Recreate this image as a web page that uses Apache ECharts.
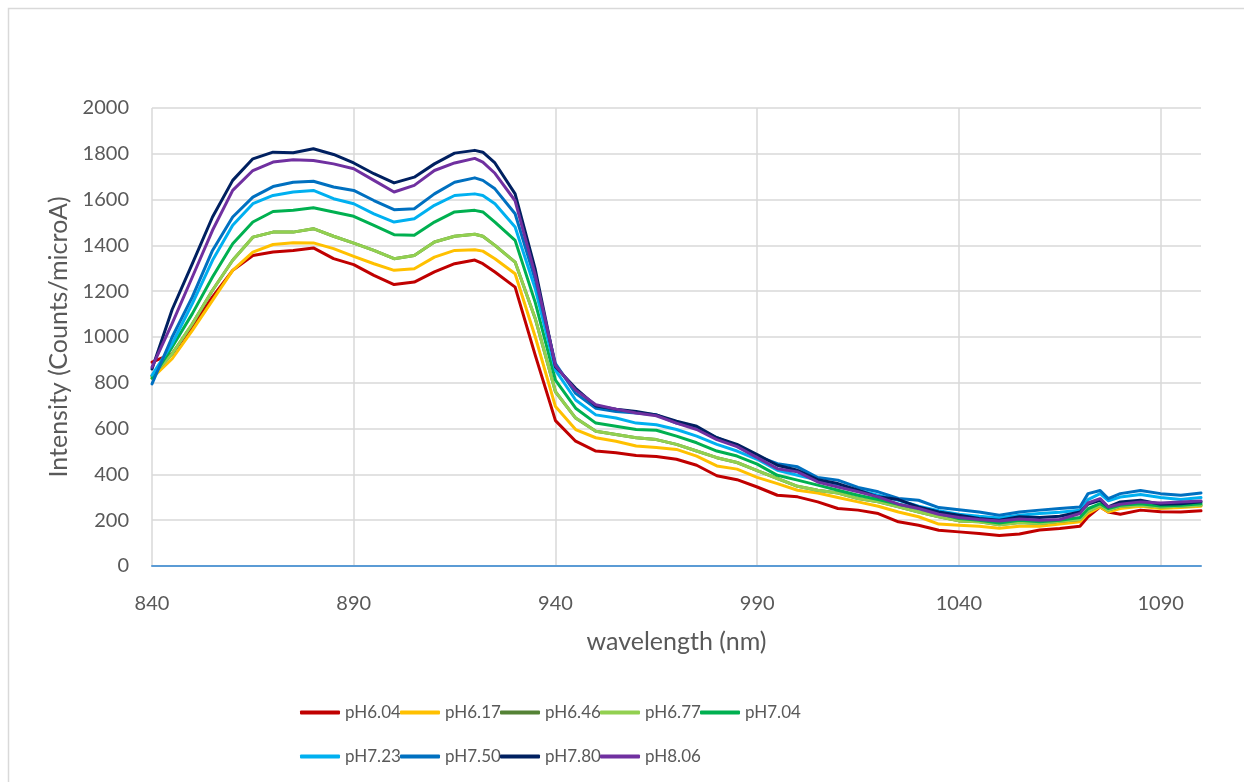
<!DOCTYPE html>
<html>
<head>
<meta charset="utf-8">
<script src="https://cdn.jsdelivr.net/npm/echarts@6/dist/echarts.min.js"></script>
<style>html,body{margin:0;padding:0;background:#fff}#c{width:1244px;height:782px}</style>
</head>
<body>
<div id="c"></div>
<script>
var wavelengths = [840,845,850,855,860,865,870,875,880,885,890,895,900,905,910,915,920,922,925,930,935,940,945,950,955,960,965,970,975,980,985,990,995,1000,1005,1010,1015,1020,1025,1030,1035,1040,1045,1050,1055,1060,1065,1070,1072,1075,1077,1080,1085,1090,1095,1100];
var seriesNames = ['pH6.04','pH6.17','pH6.46','pH6.77','pH7.04','pH7.23','pH7.50','pH7.80','pH8.06'];
var pH604 = [890,927,1044,1175,1291,1356,1371,1378,1389,1342,1316,1269,1229,1240,1284,1320,1336,1320,1284,1218,920,635,545,502,495,483,478,466,440,394,377,345,309,302,280,251,244,229,193,178,156,149,142,133,140,157,164,174,215,258,236,226,244,237,236,241];
var pH617 = [820,905,1029,1160,1291,1371,1404,1412,1411,1386,1352,1320,1291,1298,1349,1378,1381,1375,1342,1276,1000,696,596,560,545,524,517,509,480,437,423,387,360,331,319,299,280,261,236,215,183,178,174,165,174,174,183,193,230,258,236,251,261,251,255,261];
var pH646 = [830,927,1058,1204,1335,1436,1458,1458,1473,1440,1410,1378,1342,1356,1415,1440,1449,1440,1400,1327,1080,761,646,588,574,560,552,531,502,473,452,416,382,348,331,319,295,280,258,236,215,197,193,180,190,186,195,203,240,265,244,261,265,258,261,265];
var pH677 = [830,927,1058,1204,1335,1436,1458,1458,1473,1440,1410,1378,1342,1356,1415,1440,1449,1440,1400,1327,1080,761,646,588,574,560,552,531,502,473,452,416,382,348,331,319,295,280,258,236,215,197,193,180,190,186,195,203,240,265,244,261,265,258,261,265];
var pH704 = [820,956,1102,1262,1407,1502,1548,1553,1564,1546,1527,1487,1447,1444,1502,1546,1553,1546,1502,1422,1150,812,689,624,610,596,593,567,538,502,480,445,396,375,353,331,309,290,270,251,229,207,200,188,200,193,200,212,250,272,251,265,272,262,265,272];
var pH723 = [833,971,1146,1335,1488,1582,1618,1633,1640,1604,1582,1538,1502,1516,1575,1618,1625,1618,1582,1480,1210,855,725,660,646,624,617,596,567,531,502,466,418,396,375,353,331,309,287,261,241,226,217,210,222,229,235,244,290,316,285,301,312,299,290,299];
var pH750 = [795,1000,1175,1378,1524,1611,1657,1676,1680,1655,1640,1596,1556,1560,1625,1676,1695,1684,1647,1538,1250,884,754,689,675,668,660,624,603,560,524,480,447,433,386,375,343,324,295,287,255,246,236,222,236,244,251,258,316,330,294,316,330,316,309,319];
var pH780 = [860,1120,1320,1524,1684,1778,1807,1805,1822,1797,1760,1713,1673,1698,1756,1803,1815,1807,1760,1625,1295,870,776,699,685,675,660,632,610,560,531,487,440,418,377,360,331,302,290,258,236,222,207,200,215,212,217,236,270,287,258,280,287,270,272,280];
var pH806 = [868,1060,1262,1466,1640,1727,1764,1774,1771,1756,1735,1684,1633,1662,1727,1760,1780,1764,1715,1595,1270,875,768,704,685,668,656,624,596,552,521,473,425,411,367,345,324,302,270,251,226,212,203,197,205,200,203,229,275,294,258,270,280,275,280,284];
var seriesValues = [pH604,pH617,pH646,pH677,pH704,pH723,pH750,pH780,pH806];
var colors = ['#C00000','#FFC000','#548235','#92D050','#00B050','#00B0F0','#0070C0','#002060','#7030A0'];
var xTicks = {min: 840, max: 1100, interval: 50};
var yTicks = {min: 0, max: 2000, interval: 200};

var FONT = 'Lato';
var chart = echarts.init(document.getElementById('c'), null, {renderer: 'canvas'});
var series = seriesNames.map(function (n, i) {
  return {
    name: n, type: 'line', showSymbol: false, symbol: 'none',
    data: wavelengths.map(function (w, j) { return [w, seriesValues[i][j]]; }),
    lineStyle: {width: 3, color: colors[i], join: 'round', cap: 'round'},
    itemStyle: {color: colors[i]},
    emphasis: {disabled: true},
    animation: false
  };
});
var legends = seriesNames.map(function (n, i) {
  return {
    data: [n], orient: 'horizontal', padding: 0,
    left: 300 + 100 * (i % 5), top: i < 5 ? 704 : 748,
    itemWidth: 40, itemHeight: 4, itemGap: 0, icon: 'roundRect',
    textStyle: {color: '#595959', fontFamily: FONT, fontSize: 17, padding: [3,0,0,0]},
    selectedMode: false
  };
});
function plain(v) { return String(v); }
chart.setOption({
  backgroundColor: '#fff',
  animation: false,
  color: colors,
  grid: {left: 152, right: 43, top: 108, height: 458, containLabel: false},
  xAxis: {
    type: 'value', min: xTicks.min, max: xTicks.max, interval: xTicks.interval,
    name: 'wavelength (nm)', nameLocation: 'middle', nameGap: 63,
    nameTextStyle: {color: '#595959', fontFamily: FONT, fontSize: 25},
    axisLine: {show: true, lineStyle: {color: '#5B9BD5', width: 2}},
    axisTick: {show: false},
    axisLabel: {color: '#595959', fontFamily: FONT, fontSize: 20, margin: 28, showMaxLabel: false, formatter: plain},
    splitLine: {show: true, showMaxLine: false, lineStyle: {color: '#D9D9D9', width: 1.5}}
  },
  yAxis: {
    type: 'value', min: yTicks.min, max: yTicks.max, interval: yTicks.interval,
    name: 'Intensity (Counts/microA)', nameLocation: 'middle', nameGap: 73,
    nameTextStyle: {color: '#595959', fontFamily: FONT, fontSize: 25},
    axisLine: {show: false},
    axisTick: {show: false},
    axisLabel: {color: '#595959', fontFamily: FONT, fontSize: 20, margin: 23, padding: [9,0,0,0], formatter: plain},
    splitLine: {show: true, lineStyle: {color: '#D9D9D9', width: 1.5}}
  },
  legend: legends,
  graphic: [{
    type: 'rect', silent: true, z: -10,
    shape: {x: 8.5, y: 8.5, width: 1260, height: 800},
    style: {fill: 'none', stroke: '#D9D9D9', lineWidth: 1.5}
  }],
  series: series
});
</script>
</body>
</html>
